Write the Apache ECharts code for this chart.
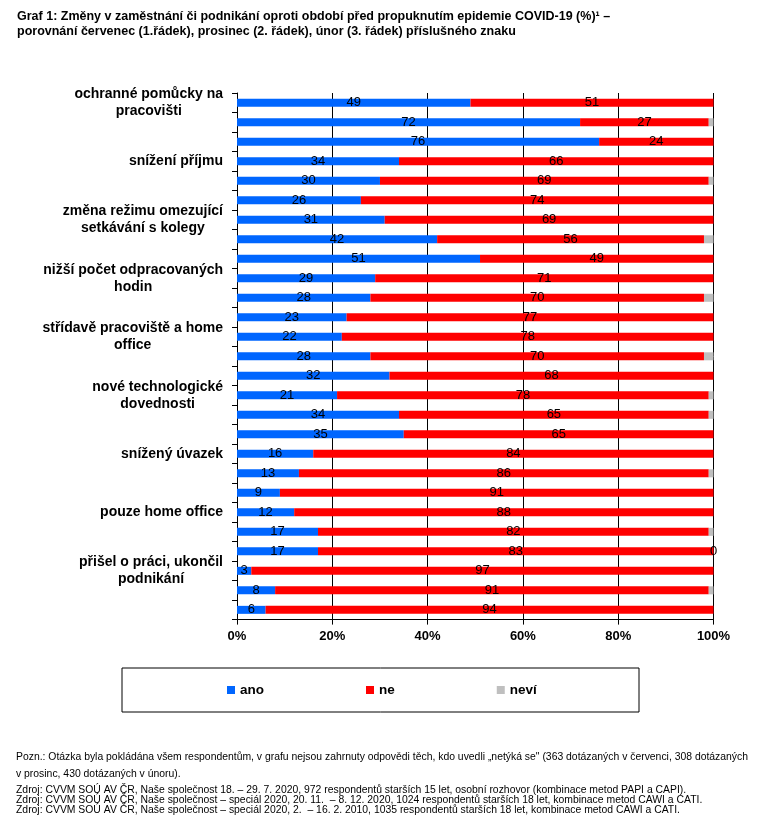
<!DOCTYPE html>
<html>
<head>
<meta charset="utf-8">
<script src="https://cdn.jsdelivr.net/npm/echarts@6/dist/echarts.min.js"></script>
<style>
html,body{margin:0;padding:0;background:#fff;}
#chart{width:766px;height:831px;}
</style>
</head>
<body>
<div id="chart"></div>
<script>
const categories = [
  'ochranné pomůcky na\npracovišti',
  'snížení příjmu',
  'změna režimu omezující\nsetkávání s kolegy',
  'nižší počet odpracovaných\nhodin',
  'střídavě pracoviště a home\noffice',
  'nové technologické\ndovednosti',
  'snížený úvazek',
  'pouze home office',
  'přišel o práci, ukončil\npodnikání'
];
const waves = ['červenec', 'prosinec', 'únor'];
const ano  = [49,72,76,34,30,26,31,42,51,29,28,23,22,28,32,21,34,35,16,13,9,12,17,17,3,8,6];
const ne   = [51,27,24,66,69,74,69,56,49,71,70,77,78,70,68,78,65,65,84,86,91,88,82,83,97,91,94];
const nevi = [0,1,0,0,1,0,0,2,0,0,2,0,0,2,0,1,1,0,0,1,0,0,1,0,0,1,0];
const neviLabelledRows = [23];
const xTicks = [0, 20, 40, 60, 80, 100];
const titleText = 'Graf 1: Změny v zaměstnání či podnikání oproti období před propuknutím epidemie COVID-19 (%)¹ –\nporovnání červenec (1.řádek), prosinec (2. řádek), únor (3. řádek) příslušného znaku';
const notes = [
  'Pozn.: Otázka byla pokládána všem respondentům, v grafu nejsou zahrnuty odpovědi těch, kdo uvedli „netýká se" (363 dotázaných v červenci, 308 dotázaných',
  'v prosinc, 430 dotázaných v únoru).',
  'Zdroj: CVVM SOÚ AV ČR, Naše společnost 18. – 29. 7. 2020, 972 respondentů starších 15 let, osobní rozhovor (kombinace metod PAPI a CAPI).',
  'Zdroj: CVVM SOÚ AV ČR, Naše společnost – speciál 2020, 20. 11.  – 8. 12. 2020, 1024 respondentů starších 18 let, kombinace metod CAWI a CATI.',
  'Zdroj: CVVM SOÚ AV ČR, Naše společnost – speciál 2020, 2.  – 16. 2. 2010, 1035 respondentů starších 18 let, kombinace metod CAWI a CATI.'
];

const FONT = '"Liberation Sans", Arial, sans-serif';
const rowIds = [];
categories.forEach((c, gi) => waves.forEach((w, wi) => rowIds.push(gi + '|' + wi)));

const labelStyle = { show: true, position: 'inside', color: '#000', fontSize: 13, fontFamily: FONT };

const chart = echarts.init(document.getElementById('chart'), null, { renderer: 'canvas' });
const noteTops = [752, 769, 785, 795, 805];

chart.setOption({
  backgroundColor: '#fff',
  animation: false,
  title: {
    text: titleText,
    left: 17, top: 9.5, padding: 0,
    textStyle: { fontSize: 12.5, fontWeight: 'bold', color: '#000', fontFamily: FONT, lineHeight: 15 }
  },
  grid: { left: 237, right: 52.5, top: 93, bottom: 211.4, containLabel: false },
  legend: {
    data: ['ano', 'ne', 'neví'],
    left: 227, top: 683, padding: 0,
    itemWidth: 8, itemHeight: 8, itemGap: 102,
    icon: 'rect',
    textStyle: { fontSize: 13.5, fontWeight: 'bold', color: '#000', fontFamily: FONT },
    selectedMode: false
  },
  xAxis: {
    type: 'value', min: xTicks[0], max: xTicks[xTicks.length - 1], interval: xTicks[1] - xTicks[0],
    axisLine: { show: true, lineStyle: { color: '#000', width: 1 } },
    axisTick: { show: true, length: 5, lineStyle: { color: '#000' } },
    splitLine: { show: true, lineStyle: { color: '#000', width: 1 } },
    axisLabel: { formatter: '{value}%', fontSize: 13, fontWeight: 'bold', color: '#000', fontFamily: FONT, margin: 10 }
  },
  yAxis: {
    type: 'category', inverse: true, data: rowIds,
    axisLine: { show: true, lineStyle: { color: '#000', width: 1 } },
    axisTick: { show: true, interval: 0, length: 5, lineStyle: { color: '#000' } },
    axisLabel: {
      interval: 0, margin: 14,
      formatter: function (v) {
        const parts = v.split('|');
        if (parts[1] !== '0') return '';
        return categories[+parts[0]].split('\n').map(l => '{c|' + l + '}').join('\n');
      },
      rich: { c: { align: 'center', fontSize: 14, fontWeight: 'bold', color: '#000', fontFamily: FONT, lineHeight: 17 } }
    }
  },
  series: [
    { name: 'ano', type: 'bar', stack: 'a', barWidth: 8, data: ano,
      itemStyle: { color: '#0066FF' }, label: labelStyle },
    { name: 'ne', type: 'bar', stack: 'a', barWidth: 8, data: ne,
      itemStyle: { color: '#FF0000' }, label: labelStyle },
    { name: 'neví', type: 'bar', stack: 'a', barWidth: 8,
      data: nevi.map((v, i) => neviLabelledRows.includes(i) ? { value: v, label: labelStyle } : v),
      itemStyle: { color: '#BFBFBF' }, label: { show: false } }
  ],
  graphic: [
    { type: 'rect', z: -1, shape: { x: 122, y: 668, width: 517, height: 44 },
      style: { fill: 'none', stroke: '#000', lineWidth: 1 } }
  ].concat(notes.map((t, i) => ({
    type: 'text', left: 16, top: noteTops[i],
    style: { text: t, font: '10.4px ' + FONT, fill: '#000' }
  })))
});
</script>
</body>
</html>
